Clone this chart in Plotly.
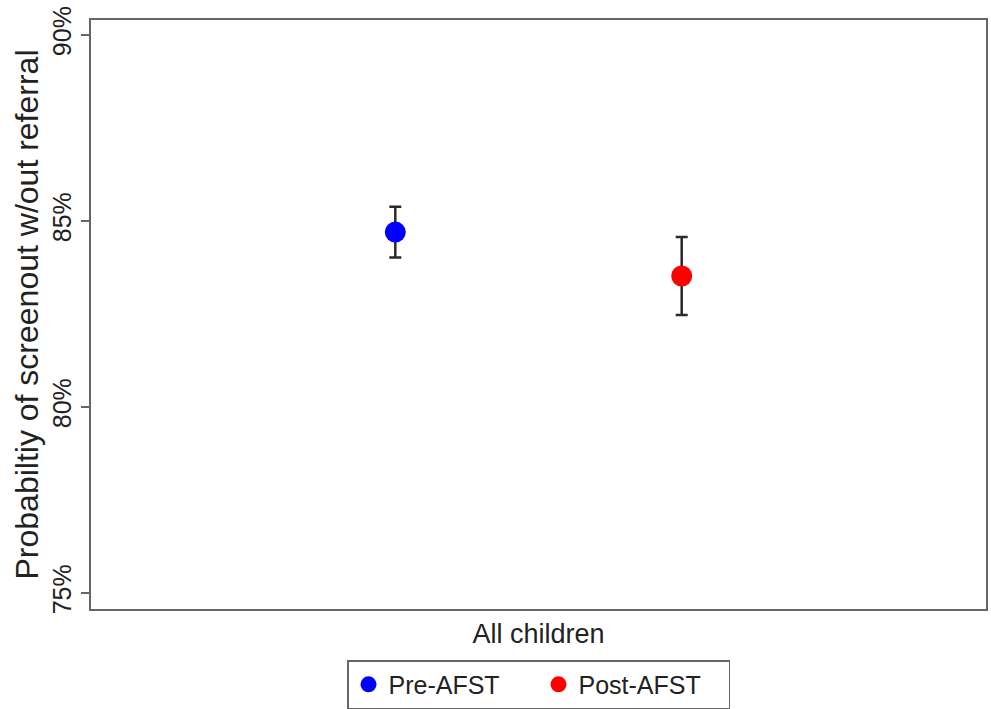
import plotly.graph_objects as go

# Estimated screenout probabilities (percent) with 95% confidence half-widths
category = "All children"
groups = ["Pre-AFST", "Post-AFST"]
estimates = [84.70, 83.52]
ci_halfwidth = [0.68, 1.05]
colors = ["#0000FF", "#FF0000"]
y_ticks = [75, 80, 85, 90]
y_tick_labels = ["75%", "80%", "85%", "90%"]

# horizontal offsets of the two groups around the single category
offsets = [-0.16, 0.16]

fig = go.Figure()
for name, est, ci, col, off in zip(groups, estimates, ci_halfwidth, colors, offsets):
    fig.add_trace(go.Scatter(
        x=[off], y=[est], name=name, mode="markers",
        marker=dict(color=col, size=21, line=dict(width=0)),
        error_y=dict(type="data", array=[ci], visible=True,
                     color="#2a2a2a", thickness=2.5, width=6),
    ))

axis_line = dict(showline=True, linecolor="#666666", linewidth=2, mirror=True,
                 showgrid=False, zeroline=False)

fig.update_layout(
    width=991, height=709,
    margin=dict(l=91, r=5, t=20, b=100, autoexpand=False),
    paper_bgcolor="white", plot_bgcolor="white",
    font=dict(family="Liberation Sans, Arial, sans-serif", color="#222222"),
    xaxis=dict(range=[-0.5, 0.5], tickvals=[0], ticktext=[category], ticks="",
               tickfont=dict(size=27, color="#222222"), ticklabelstandoff=0,
               automargin=False, **axis_line),
    yaxis=dict(range=[74.57, 90.4], tickvals=y_ticks, ticktext=y_tick_labels,
               ticks="outside", ticklen=8, tickwidth=2, tickcolor="#666666",
               tickangle=-90, tickfont=dict(size=25, color="#222222"),
               ticklabelstandoff=0, automargin=False,
               title=dict(text="Probabiltiy of screenout w/out referral",
                          font=dict(size=32, color="#222222"), standoff=0),
               **axis_line),
    legend=dict(orientation="h", x=0.5, xanchor="center",
                yref="container", y=0.069, yanchor="top",
                bordercolor="#666666", borderwidth=1.5, bgcolor="white",
                font=dict(size=25, color="#222222"), itemsizing="trace",
                itemwidth=30, entrywidth=145, entrywidthmode="pixels",
                traceorder="normal"),
    showlegend=True,
)

fig.write_html("out.html")
